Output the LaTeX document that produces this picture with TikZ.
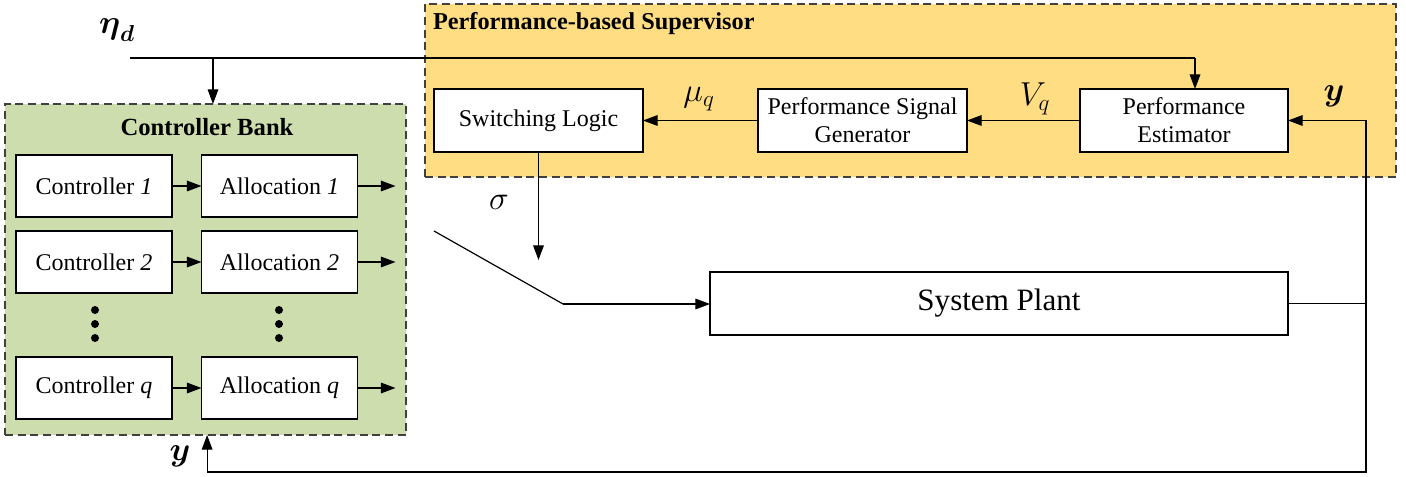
\documentclass[tikz,border=0pt]{standalone}
\usepackage{amsmath}
\usepackage{fontspec}
\setmainfont{Liberation Serif}
\usetikzlibrary{arrows.meta}

\definecolor{bankgreen}{RGB}{206,221,174}
\definecolor{supyellow}{RGB}{255,221,130}

\tikzset{every picture/.style={line width=0.9pt}}
\tikzset{
  blk/.style={draw, fill=white, inner sep=0pt, outer sep=0pt, align=center,
    font=\fontsize{18}{21}\selectfont},
  grp/.style={draw=black!75, dash pattern=on 6pt off 3.5pt, inner sep=0pt, outer sep=0pt},
  lbl/.style={font=\fontsize{24}{28}\selectfont},
  arr/.style={-{Triangle[length=11pt,width=8pt]}}
}

\begin{document}
\begin{tikzpicture}[x=0.75pt,y=0.75pt,yscale=-1,xscale=1]
	\useasboundingbox (0,0) rectangle (1406,477);

	%Shape: Rectangle [id:bank]
	\node [grp, fill=bankgreen, minimum width=300.75pt, minimum height=248.25pt] (bank) at (205.5,269.5) {};
	%Shape: Rectangle [id:sup]
	\node [grp, fill=supyellow, minimum width=728.25pt, minimum height=129.75pt] (sup) at (910.5,90.5) {};

	% Text Node
	\node [font=\fontsize{18.5}{22}\selectfont\bfseries] (bankT) at (207,127) {Controller Bank};
	% Text Node
	\node [font=\fontsize{18.2}{22}\selectfont\bfseries, anchor=west] (supT) at (428,24) {Performance-based Supervisor};

	%Shape: Rectangle [id:c1]
	\node [blk, minimum width=117pt, minimum height=46.5pt] (c1) at (94,186) {Controller \textit{1}};
	\node [blk, minimum width=117pt, minimum height=46.5pt] (a1) at (279.5,186) {Allocation \textit{1}};
	%Shape: Rectangle [id:c2]
	\node [blk, minimum width=117pt, minimum height=46.5pt] (c2) at (94,262) {Controller \textit{2}};
	\node [blk, minimum width=117pt, minimum height=46.5pt] (a2) at (279.5,262) {Allocation \textit{2}};
	%Shape: Rectangle [id:cq]
	\node [blk, minimum width=117pt, minimum height=46.5pt] (cq) at (94,388) {Controller \textit{q}};
	\node [blk, minimum width=117pt, minimum height=46.5pt] (aq) at (279.5,388) {Allocation \textit{q}};

	%Shape: Circle [dots]
	\foreach \yy in {310,324,338} {
		\fill (95,\yy) circle (3pt);
		\fill (279,\yy) circle (3pt);
	}

	%Straight Lines [id:rows]
	\draw [arr] (c1) -- (a1);
	\draw [arr] (c2) -- (a2);
	\draw [arr] (cq) -- (aq);
	\draw [arr] (a1.east) -- ++(38,0);
	\draw [arr] (a2.east) -- ++(38,0);
	\draw [arr] (aq.east) -- ++(38,0);

	%Shape: Rectangle [id:sl]
	\node [blk, minimum width=156.75pt, minimum height=47.25pt] (sl) at (538.5,120.5) {Switching Logic};
	%Shape: Rectangle [id:psg]
	\node [blk, minimum width=156.75pt, minimum height=47.25pt] (psg) at (862.5,120.5) {Performance Signal\\Generator};
	%Shape: Rectangle [id:pe]
	\node [blk, minimum width=156pt, minimum height=47.25pt] (pe) at (1184,120.5) {Performance\\Estimator};
	%Shape: Rectangle [id:plant]
	\node [blk, minimum width=433.5pt, minimum height=47.25pt, font=\fontsize{23.3}{27}\selectfont] (plant) at (999,303.5) {System Plant};

	%Straight Lines [id:eta]
	\coordinate (etaL) at (130,58);
	\coordinate (tapL) at (213,58);
	\coordinate (tapR) at (1195,58);
	\draw (etaL) -- (tapR);
	\draw [arr] (tapL) -- (tapL |- bank.north);
	\draw [arr] (tapR) -- (tapR |- pe.north);

	%Straight Lines [id:sup]
	\draw [arr] (pe) -- (psg);
	\draw [arr] (psg) -- (sl);

	%Straight Lines [id:switch]
	\coordinate (swA) at (434,231);
	\coordinate (swB) at (563,304);
	\draw [arr] (sl.south) -- ++(0,108);
	\draw (swA) -- (swB);
	\draw [arr] (swB) -- (swB -| plant.west);

	%Straight Lines [id:fb]
	\coordinate (fb) at (1366,303.5);
	\coordinate (fbB) at (1366,472);
	\draw (plant.east) -- (fb);
	\draw [arr] (fb) |- (pe.east);
	\draw [arr] (fb) -- (fbB) -| ([xshift=1.2pt]bank.south);

	% Text Node
	\node [lbl, font=\fontsize{25}{29}\selectfont] (etaT) at (117,30) {$\boldsymbol{\eta}_{\boldsymbol{d}}$};
	% Text Node
	\node [lbl] (muT) at (699,99) {$\mu_q$};
	% Text Node
	\node [lbl] (vT) at (1035,99) {$V_q$};
	% Text Node
	\node [lbl, font=\fontsize{27}{31}\selectfont] (yT) at (1334,96) {$\boldsymbol{y}$};
	% Text Node
	\node [lbl, font=\fontsize{27}{31}\selectfont] (y2T) at (180,456) {$\boldsymbol{y}$};
	% Text Node
	\node [lbl] (sigT) at (499,202) {$\sigma$};

\end{tikzpicture}
\end{document}
